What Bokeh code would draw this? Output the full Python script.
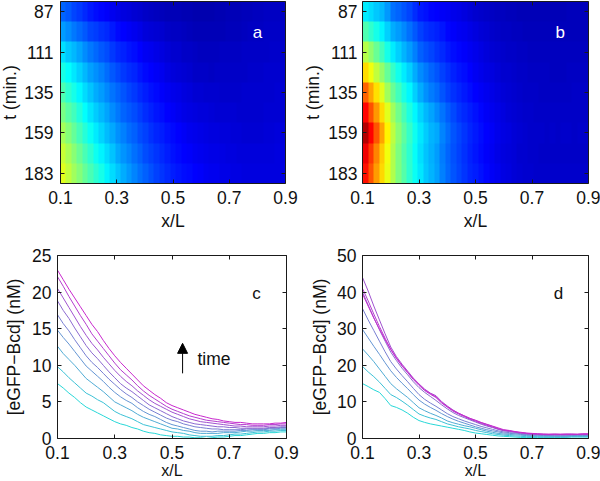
import numpy as np
from bokeh.embed import file_html
from bokeh.layouts import column, row
from bokeh.models import Arrow, CustomLabelingPolicy, FixedTicker, Label, LinearAxis, LinearColorMapper, NormalHead, Range1d
from bokeh.plotting import figure
from bokeh.resources import INLINE

x_pos = [round(0.1 + 0.02 * i, 2) for i in range(41)]
times = [87, 99, 111, 123, 135, 147, 159, 171, 183]
x_ticks = [0.1, 0.3, 0.5, 0.7, 0.9]
t_ticks = [87, 111, 135, 159, 183]

c1 = [7.5,6.9,6.2,5.6,4.9,4.3, 3.9,3.5,3.1,2.7,2.3, 2.0,1.8,1.5,1.3,1.0, .8,.7,.5,.4,.3, .3,.2,.2,.1,.1, .0,.1,.2,.2,.3, .4,.4,.5,.6,.7, .7,.8,.8,.9,.9]
c2 = [9.8,9.1,8.3,7.6,6.9,6.2, 5.8,5.3,4.9,4.3,3.7, 3.3,3.0,2.7,2.3,1.9, 1.7,1.5,1.3,1.1,0.9, 0.8,0.7,0.5,0.4,0.3, 0.3,0.3,0.4,0.4,0.5, 0.6,0.6,0.7,0.8,0.9, 0.9,1.0,1.0,1.1,1.1]
c3 = [12.6,11.6,10.8,10.0,9.1,8.2, 7.6,7.0,6.4,5.7,5.0, 4.6,4.2,3.8,3.3,2.9, 2.6,2.3,2.0,1.7,1.4, 1.3,1.1,1.0,0.8,0.7, 0.7,0.7,0.7,0.8,0.8, 0.8,0.9,1.0,1.0,1.1, 1.1,1.1,1.2,1.2,1.2]
c4 = [14.8,13.8,12.9,11.9,10.9,9.9, 9.2,8.5,7.8,7.0,6.3, 5.7,5.2,4.8,4.2,3.7, 3.3,3.0,2.6,2.2,1.9, 1.7,1.5,1.3,1.1,1.0, 1.0,0.9,1.0,1.0,1.0, 1.0,1.1,1.1,1.2,1.2, 1.2,1.3,1.3,1.4,1.4]
c5 = [16.9,15.7,14.7,13.5,12.4,11.3, 10.4,9.7,8.9,8.1,7.4, 6.7,6.1,5.6,5.0,4.5, 4.0,3.6,3.2,2.8,2.5, 2.3,2.0,1.8,1.6,1.5, 1.4,1.3,1.3,1.2,1.2, 1.2,1.2,1.3,1.3,1.3, 1.3,1.4,1.4,1.5,1.5]
c6 = [18.8,17.5,16.4,15.1,13.9,12.7, 11.7,10.9,10.0,9.1,8.3, 7.5,6.9,6.4,5.8,5.2, 4.6,4.2,3.8,3.4,3.0, 2.7,2.4,2.2,2.0,1.9, 1.8,1.7,1.6,1.6,1.5, 1.5,1.4,1.4,1.4,1.4, 1.4,1.5,1.5,1.6,1.6]
c7 = [20.5,19.2,17.9,16.6,15.3,14.1, 13.0,12.1,11.1,10.2,9.3, 8.5,7.8,7.2,6.5,5.9, 5.3,4.8,4.4,4.0,3.6, 3.3,3.0,2.7,2.5,2.3, 2.2,2.1,2.0,1.9,1.8, 1.7,1.7,1.6,1.6,1.6, 1.6,1.7,1.7,1.8,1.8]
c8 = [22.1,20.8,19.4,18.1,16.8,15.6, 14.3,13.3,12.3,11.3,10.3, 9.4,8.7,8.0,7.2,6.5, 5.9,5.4,4.9,4.4,4.0, 3.7,3.4,3.1,2.9,2.7, 2.5,2.4,2.3,2.2,2.1, 2.0,1.9,1.9,1.8,1.8, 1.8,1.9,1.9,2.0,2.0]
c9 = [23.0,21.7,20.4,19.2,18.0,16.8, 15.6,14.6,13.4,12.3,11.3, 10.4,9.6,8.8,8.0,7.2, 6.6,6.0,5.5,4.9,4.5, 4.2,3.9,3.6,3.3,3.1, 2.9,2.7,2.6,2.4,2.3, 2.2,2.2,2.1,2.0,2.0, 2.0,2.0,2.1,2.1,2.2]

d1 = [15.0,14.2,13.3,12.6,10.9,9.0, 8.5,7.8,6.9,5.8,4.9, 4.4,4.0,3.7,3.4,3.1, 2.8,2.5,2.2,1.8,1.5, 1.3,1.1,.9,.7,.6, .5,.4,.3,.3,.3, .3,.3,.3,.3,.3, .3,.4,.4,.4,.4]
d2 = [19.7,18.2,16.9,15.4,13.7,12.0, 11.2,10.2,9.1,7.9,6.7, 6.1,5.6,5.2,4.6,4.0, 3.6,3.2,2.9,2.6,2.2, 1.9,1.6,1.3,1.1,0.9, 0.8,0.7,0.6,0.5,0.5, 0.5,0.4,0.4,0.4,0.4, 0.4,0.5,0.5,0.5,0.5]
d3 = [24.5,22.8,21.0,19.0,17.0,15.0, 13.6,12.4,11.2,9.8,8.4, 7.6,6.9,6.3,5.6,4.8, 4.3,3.9,3.5,3.2,2.8, 2.4,2.0,1.7,1.4,1.2, 1.1,1.0,0.9,0.8,0.7, 0.7,0.6,0.6,0.6,0.6, 0.6,0.7,0.7,0.7,0.7]
d4 = [29.8,27.5,25.2,23.0,20.7,18.5, 16.7,15.1,13.6,12.0,10.5, 9.4,8.5,7.7,6.8,6.0, 5.3,4.7,4.2,3.7,3.2, 2.8,2.4,2.1,1.8,1.5, 1.4,1.3,1.1,1.0,0.9, 0.9,0.8,0.8,0.7,0.7, 0.7,0.8,0.8,0.8,0.8]
d5 = [35.5,32.4,29.5,26.6,23.7,21.0, 19.0,17.2,15.5,13.7,12.0, 10.7,9.7,8.8,7.8,6.8, 6.0,5.4,4.8,4.3,3.8, 3.3,2.9,2.5,2.1,1.8, 1.6,1.5,1.3,1.1,1.0, 1.0,0.9,0.9,0.9,0.9, 0.9,0.9,1.0,1.0,1.0]
d6 = [40.0,36.5,33.0,29.7,26.6,23.6, 21.3,19.2,17.4,15.5,13.9, 12.6,11.5,10.4,9.2,8.1, 7.1,6.3,5.7,5.1,4.5, 3.9,3.4,3.0,2.5,2.1, 1.9,1.7,1.5,1.3,1.2, 1.1,1.1,1.0,1.0,1.0, 1.0,1.1,1.1,1.1,1.1]
d7 = [44.0,40.3,36.2,32.4,28.6,25.0, 22.4,20.3,18.4,16.5,14.9, 13.5,12.4,11.7,10.1,8.9, 7.8,6.9,6.2,5.5,4.9, 4.3,3.8,3.3,2.7,2.3, 2.1,1.8,1.6,1.4,1.3, 1.2,1.2,1.1,1.2,1.1, 1.2,1.2,1.1,1.2,1.2]
d8 = [41.0,37.6,34.0,30.6,27.4,24.3, 21.9,19.8,18.0,16.1,14.5, 13.1,12.1,11.2,9.7,8.6, 7.5,6.7,6.0,5.3,4.7, 4.1,3.6,3.1,2.6,2.2, 2.0,1.8,1.5,1.4,1.2, 1.2,1.1,1.1,1.1,1.1, 1.1,1.1,1.1,1.1,1.1]
d9 = [39.5,36.2,32.9,29.9,27.0,24.4, 22.0,20.0,18.1,16.3,14.8, 13.3,12.3,11.4,9.9,8.7, 7.7,6.9,6.2,5.5,5.0, 4.4,3.9,3.4,2.9,2.4, 2.2,1.9,1.7,1.5,1.4, 1.3,1.2,1.2,1.2,1.2, 1.2,1.2,1.2,1.3,1.3]

series_c = [c1, c2, c3, c4, c5, c6, c7, c8, c9]
series_d = [d1, d2, d3, d4, d5, d6, d7, d8, d9]

FONT = "Liberation Sans"
TICK = "17.5px"
NO_LABELS = "for (let i = 0; i < indices.size; i++) indices.unset(i); return indices"


def jet():
    v = np.linspace(0, 1, 256)
    chan = lambda s: np.clip(1.5 - np.abs(4 * v - s), 0, 1)
    return ["#%02x%02x%02x" % (int(r * 255), int(g * 255), int(b * 255))
            for r, g, b in zip(chan(3), chan(2), chan(1))]


def cool(n):
    out = []
    for i in range(n):
        f = i / (n - 1)
        out.append("#%02x%02x%02x" % (int(40 + 160 * f), int(215 - 175 * f), int(215 - 10 * f)))
    return out


def frame(w, h, left, right, top, bottom, xr, yr, yticks, ylabel, standoff, tick_standoff, x_standoff, x_font=TICK):
    p = figure(width=w, height=h, x_range=xr, y_range=yr, toolbar_location=None,
               output_backend="svg", min_border_left=left, min_border_right=right,
               min_border_top=top, min_border_bottom=bottom,
               x_axis_label="x/L", y_axis_label=ylabel)
    p.grid.visible = False
    p.background_fill_color = "white"
    p.outline_line_color = None
    for ax, ticks in ((p.xaxis[0], x_ticks), (p.yaxis[0], yticks)):
        ax.ticker = FixedTicker(ticks=ticks)
        ax.major_tick_in = 4
        ax.major_tick_out = 0
        ax.minor_tick_line_color = None
        ax.axis_line_color = "#1a1a1a"
        ax.major_tick_line_color = "#1a1a1a"
        ax.major_label_text_font = FONT
        ax.major_label_text_font_size = TICK
        ax.major_label_text_color = "#111111"
        ax.axis_label_text_font = FONT
        ax.axis_label_text_font_size = TICK
        ax.axis_label_text_font_style = "normal"
        ax.axis_label_text_color = "#111111"
    p.xaxis[0].major_label_standoff = 7
    p.xaxis[0].axis_label_standoff = x_standoff
    p.xaxis[0].axis_label_text_font_size = x_font
    p.yaxis[0].major_label_standoff = tick_standoff
    p.yaxis[0].axis_label_standoff = standoff
    for side, ticks in (("above", x_ticks), ("right", yticks)):
        ax = LinearAxis(ticker=FixedTicker(ticks=ticks), major_tick_in=4, major_tick_out=0,
                        minor_tick_line_color=None, major_label_text_font_size="1px",
                        major_label_standoff=0, axis_line_color="#1a1a1a",
                        major_tick_line_color="#1a1a1a",
                        major_label_policy=CustomLabelingPolicy(code=NO_LABELS))
        p.add_layout(ax, side)
    return p


def heat(series, letter, w, left, right, low, high, standoff, tick_standoff, lx):
    p = frame(w, 236, left, right, 1, 50, Range1d(0.1, 0.9), Range1d(189, 81), t_ticks, "t (min.)",
              standoff, tick_standoff, 4)
    mapper = LinearColorMapper(palette=jet(), low=low, high=high)
    p.image(image=[np.array(series, dtype=float)], x=0.1, y=81, dw=0.8, dh=108, color_mapper=mapper)
    p.add_layout(Label(x=lx, y=99.4, text=letter, text_color="white", text_font=FONT,
                       text_font_size="17px", text_align="center", text_baseline="middle"))
    return p


def curves(series, letter, left, right, ymax, yticks, lx, ly, standoff):
    p = frame(300, 250, left, right, 22, 45, Range1d(0.1, 0.9), Range1d(0, ymax), yticks,
              "[eGFP\u2212Bcd] (nM)", standoff, 6, 0, "16px")
    for vals, col in zip(series, cool(len(series))):
        p.line(x_pos, vals, line_color=col, line_width=1)
    p.add_layout(Label(x=lx, y=ly, text=letter, text_color="#111111", text_font=FONT,
                       text_font_size="17px", text_align="center", text_baseline="middle"))
    return p


a = heat(series_c, "a", 303, 63, 15, -2, 40, 1, 7, 0.80)
a.margin = (0, 0, 0, -3)
b = heat(series_d, "b", 300, 62, 12, -2.5, 46.5, 2, 5, 0.80)
c = curves(series_c, "c", 57, 14, 25, [0, 5, 10, 15, 20, 25], 0.795, 19.8, 5)
d = curves(series_d, "d", 62, 12, 50, [0, 10, 20, 30, 40, 50], 0.794, 39.6, 4)

c.add_layout(Arrow(end=NormalHead(size=10, fill_color="black", line_color="black"),
                   x_start=0.537, y_start=8.9, x_end=0.537, y_end=13.0, line_width=1, line_color="black"))
c.add_layout(Label(x=0.589, y=10.9, text="time", text_color="#111111", text_font=FONT,
                   text_font_size=TICK, text_align="left", text_baseline="middle"))

page = column(row(a, b, spacing=0, margin=(-3, 0, 0, 0)), row(c, d, spacing=0, margin=(0, 0, -1, 0)), spacing=0)
open("out.html", "w").write(file_html(page, INLINE))
